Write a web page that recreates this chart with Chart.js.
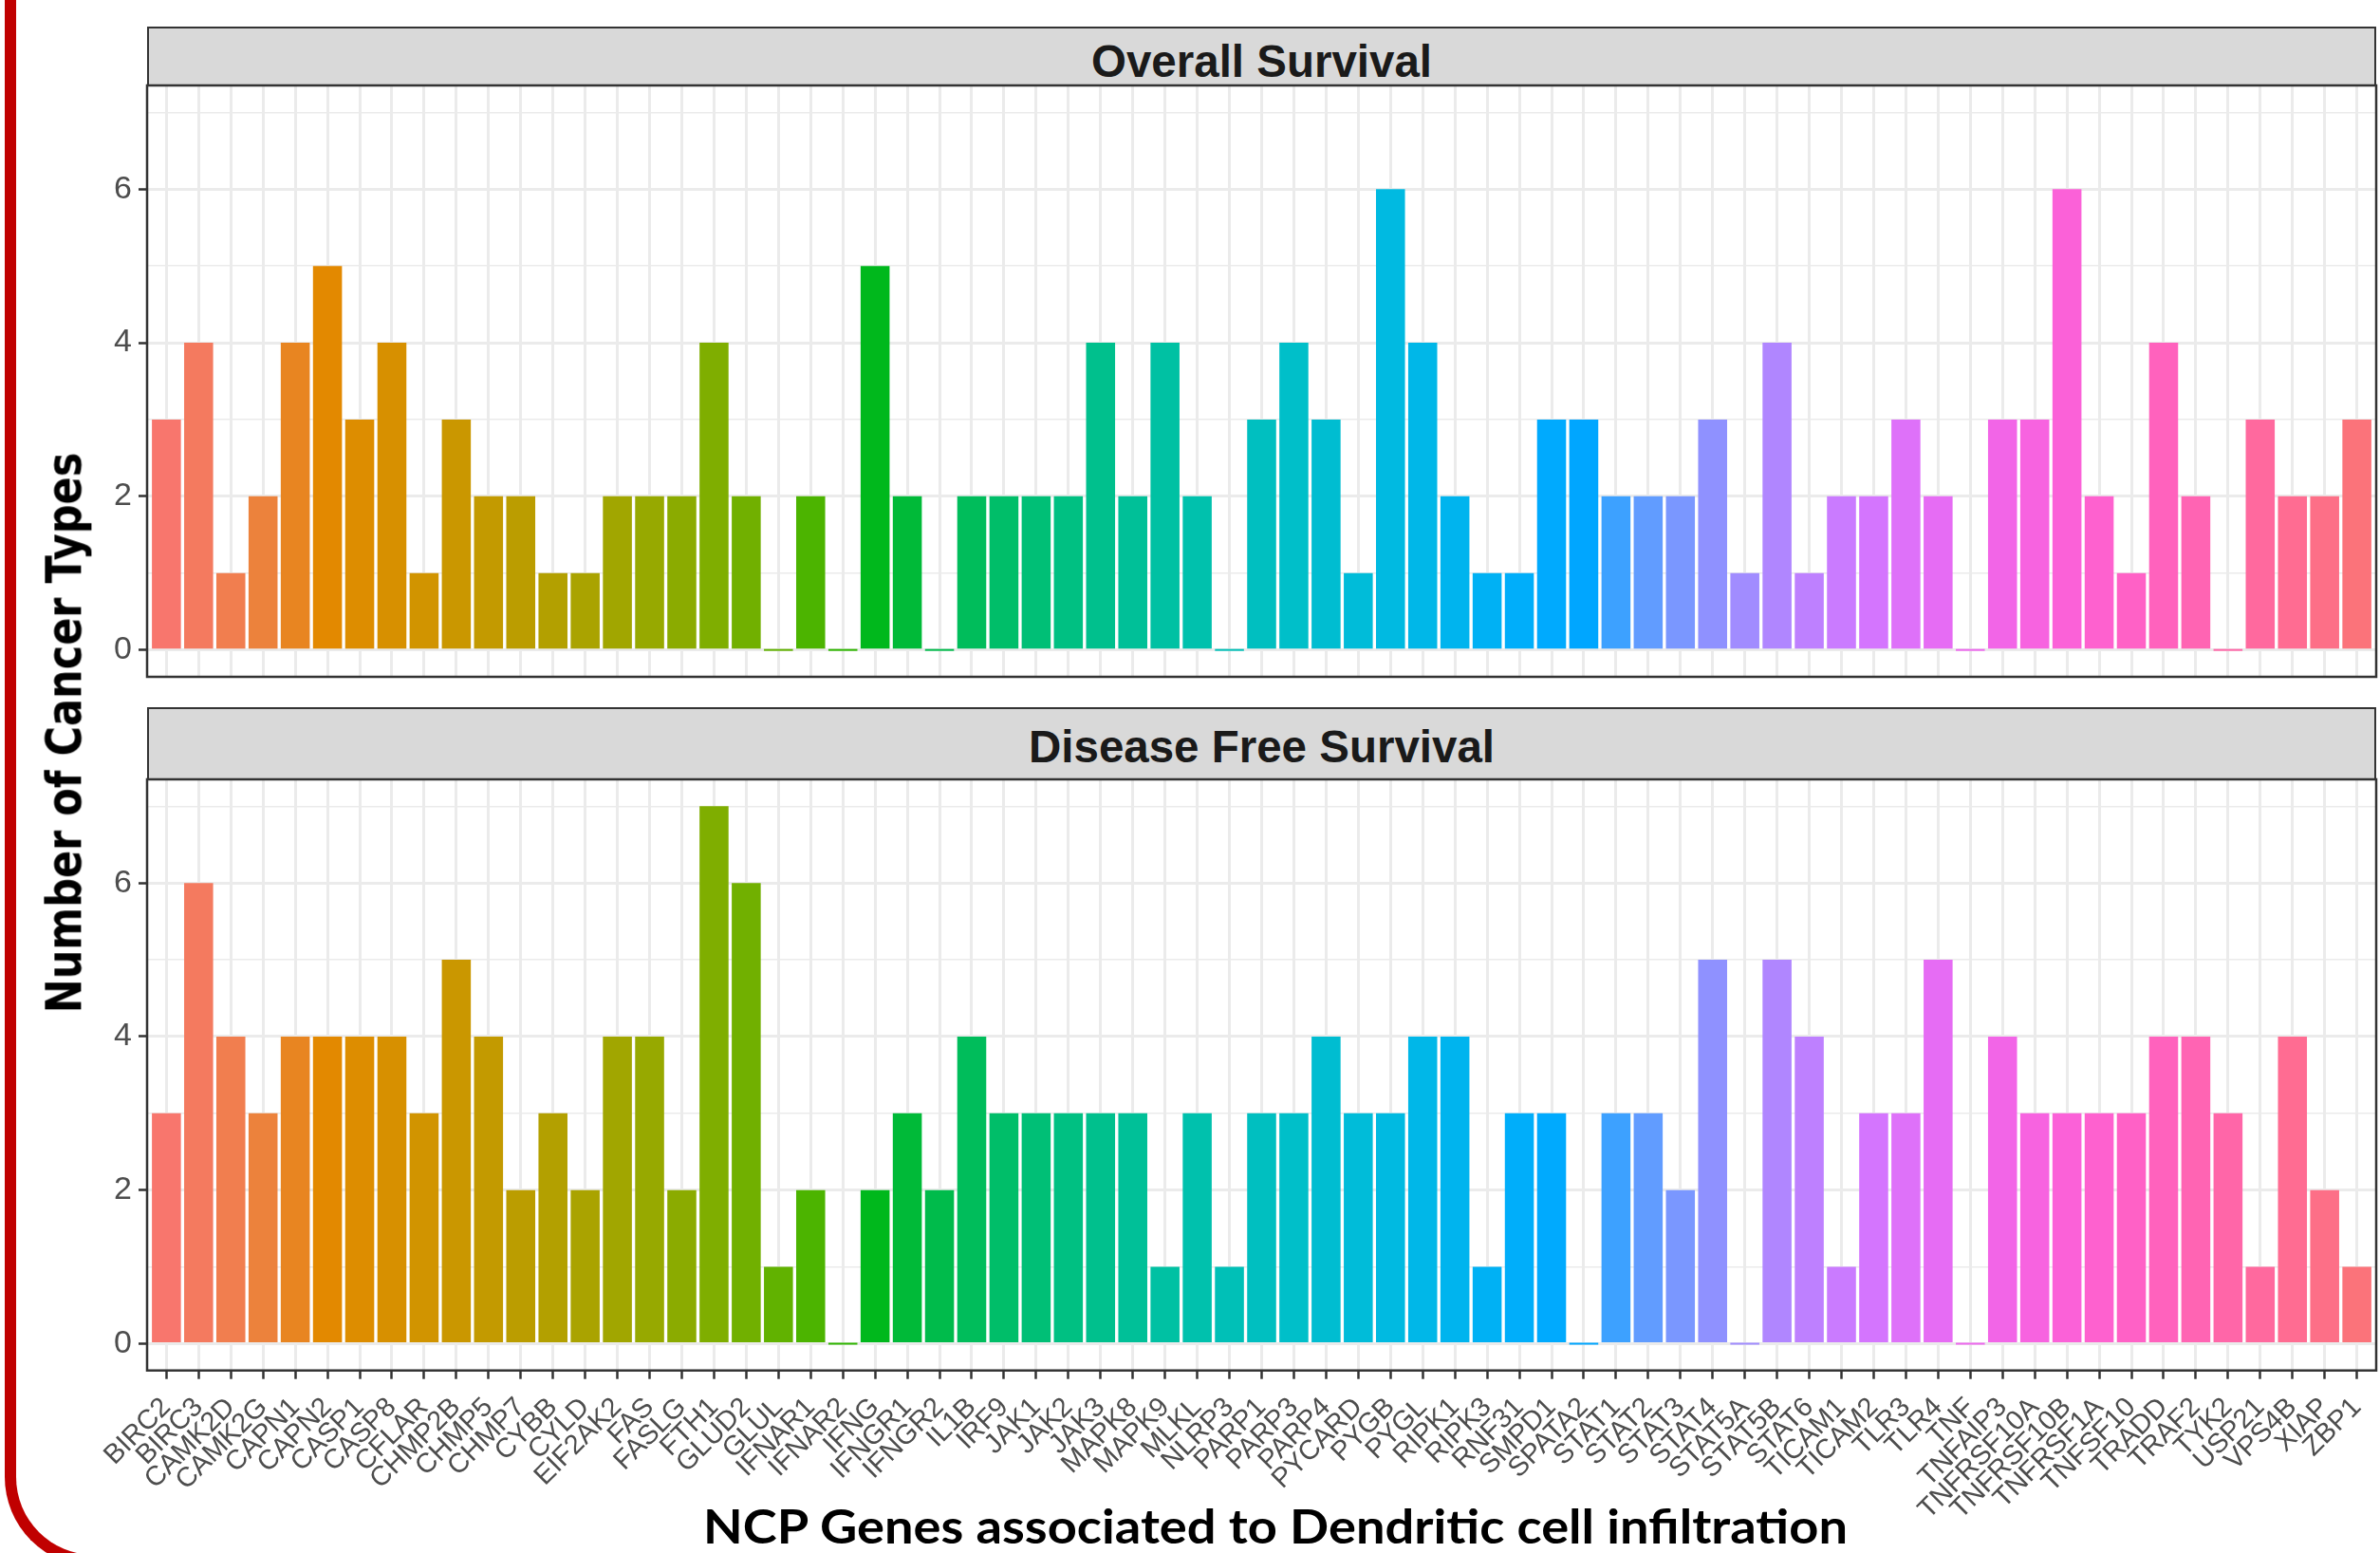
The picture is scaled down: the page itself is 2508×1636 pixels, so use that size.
<!DOCTYPE html>
<html>
<head>
<meta charset="utf-8">
<script src="https://cdn.jsdelivr.net/npm/chart.js@4.4.1/dist/chart.umd.min.js"></script>
<style>
  html, body { margin: 0; padding: 0; background: #fff; }
  body { width: 2508px; height: 1636px; position: relative; overflow: hidden; font-family: "Liberation Sans", Arial, sans-serif; }
  .bracket { position: absolute; left: 5px; top: -30px; width: 220px; height: 1680px; box-sizing: border-box;
             border-left: 12px solid #C00000; border-bottom: 12px solid #C00000; border-bottom-left-radius: 94px; }
  .strip { position: absolute; left: 155px; width: 2349px; background: #D9D9D9; border: 2.5px solid #333; box-sizing: border-box; }
  .lbl { position: absolute; white-space: nowrap; line-height: 1; transform-origin: 0 0; }
  .strip-txt { font-weight: bold; font-size: 48px; color: #1A1A1A; }
  canvas { position: absolute; left: 0; }
</style>
</head>
<body>
<div class="bracket"></div>

<div class="strip" style="top:27.5px; height:63px;"></div>
<div class="strip" style="top:745px; height:77px;"></div>
<span class="lbl strip-txt" id="t1">Overall Survival</span>
<span class="lbl strip-txt" id="t2">Disease Free Survival</span>

<canvas id="osChart" width="2508" height="643" style="top:80px; width:2508px; height:643px;"></canvas>
<canvas id="dfsChart" width="2508" height="825" style="top:811px; width:2508px; height:825px;"></canvas>

<span class="lbl" id="ytitle" style="font-family:'DejaVu Sans'; font-weight:bold; font-size:43px; color:#000; left:68px; top:772px; transform-origin:50% 50%;">Number of Cancer Types</span>
<span class="lbl" id="xtitle" style="font-family:Lato; font-weight:bold; font-size:49px; color:#000;">NCP Genes associated to Dendritic cell infiltration</span>

<script>
// genes on the x axis
const genes = ['BIRC2', 'BIRC3', 'CAMK2D', 'CAMK2G', 'CAPN1', 'CAPN2', 'CASP1', 'CASP8', 'CFLAR', 'CHMP2B',
    'CHMP5', 'CHMP7', 'CYBB', 'CYLD', 'EIF2AK2', 'FAS', 'FASLG', 'FTH1', 'GLUD2', 'GLUL',
    'IFNAR1', 'IFNAR2', 'IFNG', 'IFNGR1', 'IFNGR2', 'IL1B', 'IRF9', 'JAK1', 'JAK2', 'JAK3',
    'MAPK8', 'MAPK9', 'MLKL', 'NLRP3', 'PARP1', 'PARP3', 'PARP4', 'PYCARD', 'PYGB', 'PYGL',
    'RIPK1', 'RIPK3', 'RNF31', 'SMPD1', 'SPATA2', 'STAT1', 'STAT2', 'STAT3', 'STAT4', 'STAT5A',
    'STAT5B', 'STAT6', 'TICAM1', 'TICAM2', 'TLR3', 'TLR4', 'TNF', 'TNFAIP3', 'TNFRSF10A', 'TNFRSF10B',
    'TNFRSF1A', 'TNFSF10', 'TRADD', 'TRAF2', 'TYK2', 'USP21', 'VPS4B', 'XIAP', 'ZBP1'];

// number of cancer types, Overall Survival
const overallSurvival = [3, 4, 1, 2, 4, 5, 3, 4, 1, 3,
    2, 2, 1, 1, 2, 2, 2, 4, 2, 0,
    2, 0, 5, 2, 0, 2, 2, 2, 2, 4,
    2, 4, 2, 0, 3, 4, 3, 1, 6, 4,
    2, 1, 1, 3, 3, 2, 2, 2, 3, 1,
    4, 1, 2, 2, 3, 2, 0, 3, 3, 6,
    2, 1, 4, 2, 0, 3, 2, 2, 3];

// number of cancer types, Disease Free Survival
const diseaseFree = [3, 6, 4, 3, 4, 4, 4, 4, 3, 5,
    4, 2, 3, 2, 4, 4, 2, 7, 6, 1,
    2, 0, 2, 3, 2, 4, 3, 3, 3, 3,
    3, 1, 3, 1, 3, 3, 4, 3, 3, 4,
    4, 1, 3, 3, 0, 3, 3, 2, 5, 0,
    5, 4, 1, 3, 3, 5, 0, 4, 3, 3,
    3, 3, 4, 4, 3, 1, 4, 2, 1];

const yTicks = [0, 1, 2, 3, 4, 5, 6, 7];

// ggplot default hue palette (hcl, c = 100, l = 65)
function hueColor(h) {
    const L = 65, C = 100, rad = h * Math.PI / 180;
    const U = C * Math.cos(rad), V = C * Math.sin(rad);
    const Xn = 95.047, Yn = 100, Zn = 108.883;
    const den = Xn + 15 * Yn + 3 * Zn;
    const un = 4 * Xn / den, vn = 9 * Yn / den;
    const Y = Yn * Math.pow((L + 16) / 116, 3);
    const u = U / (13 * L) + un, v = V / (13 * L) + vn;
    const X = 9 * Y * u / (4 * v);
    const Z = Y * (12 - 3 * u - 20 * v) / (4 * v);
    const x = X / 100, y = Y / 100, z = Z / 100;
    const lin = [
        3.240479 * x - 1.537150 * y - 0.498535 * z,
        -0.969256 * x + 1.875992 * y + 0.041556 * z,
        0.055648 * x - 0.204043 * y + 1.057311 * z
    ];
    return '#' + lin.map(c => {
        let g = c > 0.00304 ? 1.055 * Math.pow(c, 1 / 2.4) - 0.055 : 12.92 * c;
        g = Math.round(Math.min(1, Math.max(0, g)) * 255);
        return g.toString(16).padStart(2, '0');
    }).join('');
}
const barColors = genes.map((g, i) => hueColor(15 + 360 * i / genes.length));

// dark frame round each panel
const frame = {
    id: 'frame',
    afterDraw(chart) {
        const a = chart.chartArea, c = chart.ctx;
        c.save();
        c.strokeStyle = '#333333';
        c.lineWidth = 2.5;
        c.strokeRect(a.left, a.top, a.right - a.left, a.bottom - a.top);
        c.restore();
    }
};

// no extra room for overhanging tick labels
function noPad(s) {
    s.paddingTop = 0; s.paddingBottom = 0; s.paddingLeft = 0; s.paddingRight = 0;
}

function makePanel(id, values, showLabels) {
    const ctx = document.getElementById(id).getContext('2d');
    return new Chart(ctx, {
        type: 'bar',
        data: {
            datasets: [{
                data: values.map((v, i) => ({ x: i + 1, y: v })),
                backgroundColor: barColors,
                borderWidth: 0,
                barPercentage: 0.9,
                categoryPercentage: 1,
                minBarLength: 2
            }]
        },
        options: {
            responsive: false,
            animation: false,
            layout: { autoPadding: false, padding: { top: 10, right: 4, left: 0, bottom: showLabels ? 0 : 10 } },
            plugins: { legend: { display: false }, tooltip: { enabled: false } },
            scales: {
                x: {
                    type: 'linear',
                    offset: false,
                    min: 0.4,
                    max: genes.length + 0.6,
                    afterBuildTicks: s => { s.ticks = genes.map((g, i) => ({ value: i + 1 })); },
                    afterFit: s => { s.height = showLabels ? 192.3 : 0; noPad(s); },
                    grid: { offset: false, color: '#EBEBEB', lineWidth: 3, drawTicks: showLabels, tickLength: 9, tickColor: '#333333', tickWidth: 2.5 },
                    border: { display: false },
                    ticks: {
                        display: showLabels,
                        autoSkip: false,
                        maxRotation: 45,
                        minRotation: 45,
                        padding: 13,
                        color: '#4D4D4D',
                        font: { family: 'Liberation Sans', size: 29 },
                        callback: v => genes[v - 1]
                    }
                },
                y: {
                    min: -0.35,
                    max: 7.35,
                    afterBuildTicks: s => { s.ticks = yTicks.map(v => ({ value: v })); },
                    afterFit: s => { s.width = 155; noPad(s); },
                    grid: {
                        color: '#EBEBEB',
                        lineWidth: c => (c.tick && c.tick.value % 2 === 0) ? 3 : 1.5,
                        tickLength: 9,
                        tickWidth: 2.5,
                        tickColor: c => (c.tick && c.tick.value % 2 === 0) ? '#333333' : 'rgba(0,0,0,0)'
                    },
                    border: { display: false },
                    ticks: {
                        padding: 7,
                        color: '#4D4D4D',
                        font: { family: 'Liberation Sans', size: 34 },
                        callback: v => (v % 2 === 0 ? v : '')
                    }
                }
            }
        },
        plugins: [frame]
    });
}

makePanel('osChart', overallSurvival, false);
makePanel('dfsChart', diseaseFree, true);

// squeeze a label to the width it has in the picture
function place(el, cx, top, width) {
    const w = el.getBoundingClientRect().width;
    el.style.left = (cx - width / 2) + 'px';
    el.style.top = top + 'px';
    el.style.transform = 'scaleX(' + (width / w) + ')';
}
place(document.getElementById('t1'), 1329.5, 82 - 0.8465 * 48, 359);
place(document.getElementById('t2'), 1329.5, 803.7 - 0.8465 * 48, 491);
place(document.getElementById('xtitle'), 1344, 1627 - 0.89 * 49, 1206);

const yt = document.getElementById('ytitle');
yt.style.transform = 'translate(-50%, -50%) scaleX(1.2) rotate(-90deg)';
</script>
</body>
</html>
